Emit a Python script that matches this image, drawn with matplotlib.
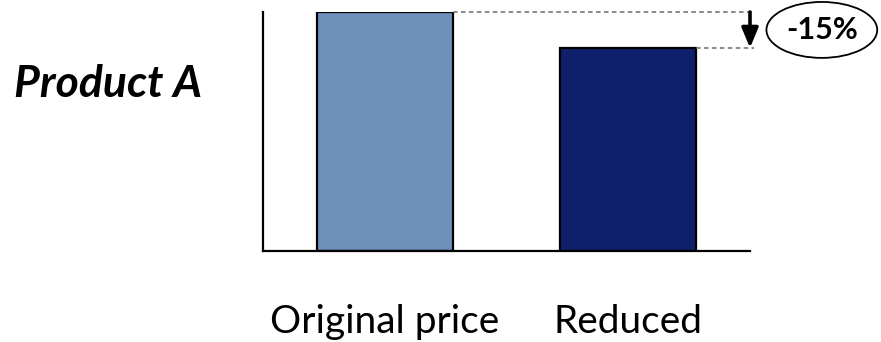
import matplotlib.pyplot as plt
from matplotlib.patches import Ellipse

categories = ["Original price", "Reduced"]
prices = [100, 85]
bar_colors = ["#6E8FBA", "#0E206B"]
change_label = "-15%"

plt.rcParams['font.family'] = ['Lato', 'DejaVu Sans']

fig = plt.figure(figsize=(8.81, 3.42), dpi=100)
ax = fig.add_axes([263 / 881, 91 / 342, 487 / 881, 239 / 342])

x = list(range(len(categories)))
ax.bar(x, prices, width=0.557, color=bar_colors, edgecolor="black", linewidth=1.6)
ax.set_xlim(-0.5, 1.5)
ax.set_ylim(0, 100)

for side in ["top", "right"]:
    ax.spines[side].set_visible(False)
for side in ["left", "bottom"]:
    ax.spines[side].set_linewidth(1.6)
ax.set_xticks([])
ax.set_yticks([])

# dashed guides from the bar tops out to the change marker
for xi, val in zip(x, prices):
    ax.plot([xi + 0.557 / 2, 1.516], [val, val], ls=(0, (3, 2.2)), color="#6a6a6a",
            lw=1.1, clip_on=False)

ax.annotate("", xy=(1.5, prices[1]), xytext=(1.5, prices[0]),
            arrowprops=dict(arrowstyle="-|>,head_width=0.5,head_length=1.2",
                            color="black", lw=2.6, shrinkA=0, shrinkB=0),
            annotation_clip=False)

ell = Ellipse((1.795, 92.5), 0.455, 23.4, facecolor="white", edgecolor="black",
              lw=1.3, clip_on=False)
ax.add_patch(ell)
ax.text(1.795, 92.5, change_label, ha="center", va="center", fontsize=22,
        fontweight="bold", clip_on=False)

for xi, cat in zip(x, categories):
    ax.text(xi, -34.3, cat, ha="center", va="baseline", fontsize=28, clip_on=False)

fig.text(108 / 881, 1 - 97 / 342, "Product A", ha="center", va="baseline",
         fontsize=32, fontweight="bold", fontstyle="italic")

fig.savefig("out.png", dpi=100)
